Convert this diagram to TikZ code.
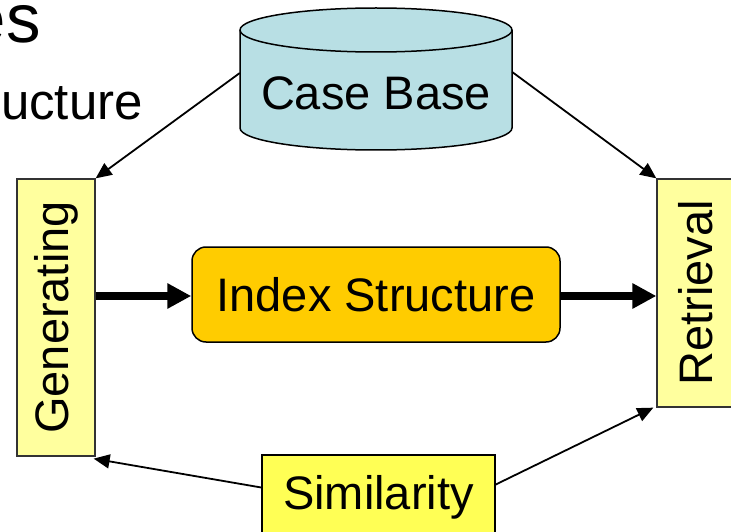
\documentclass[tikz,border=0pt]{standalone}
\usepackage{fontspec}
\setmainfont{Liberation Sans}
\usetikzlibrary{arrows.meta,calc}
\definecolor{cylblue}{HTML}{B8DFE4}
\definecolor{paleyellow}{HTML}{FFFF9E}
\definecolor{brightyellow}{HTML}{FFFF55}
\definecolor{gold}{HTML}{FFCC00}
\tikzset{
  lbl/.style={font=\fontsize{47}{52}\selectfont},
  sidebox/.style={draw=black!80, line width=1.3pt, fill=paleyellow, inner sep=0pt},
  thinarrow/.style={line width=1.8pt, -{Triangle[length=16pt,width=14pt]}},
  thickarrow/.style={line width=8pt, -{Triangle[length=24pt,width=24pt]}},
}
\begin{document}
\begin{tikzpicture}[x=1pt,y=-1pt]
\useasboundingbox (0,0) rectangle (731,532);

% fragments of the slide text behind the diagram
\node[anchor=base east, inner sep=0pt, font=\fontsize{69}{75}\selectfont] (t1) at (41,43) {es};
\node[anchor=base east, inner sep=0pt, font=\fontsize{51}{56}\selectfont] (t2) at (143,120) {ucture};

% case base drum
\path[fill=cylblue, draw=black, line width=1.5pt]
  (240,30) -- (240,128)
  arc[start angle=180, end angle=360, x radius=136pt, y radius=22pt]
  -- (512,30)
  arc[start angle=0, end angle=180, x radius=136pt, y radius=22pt] -- cycle;
\draw[line width=1.5pt] (240,30)
  arc[start angle=180, end angle=360, x radius=136pt, y radius=22pt];
\node[lbl, minimum width=272pt, inner sep=0pt, anchor=base] (cb) at (376,110) {Case Base};

% side boxes
\node[sidebox, minimum width=78pt, minimum height=277pt] (gen) at (56,317.5)
  {\rotatebox{90}{\fontsize{47}{52}\selectfont Generating}};
\node[sidebox, minimum width=78pt, minimum height=228pt] (ret) at (696,293)
  {\rotatebox{90}{\fontsize{47}{52}\selectfont Retrieval}};

% index structure
\node[lbl, draw=black, line width=1.5pt, fill=gold, rounded corners=14pt,
      minimum width=368pt, minimum height=95pt] (idx) at (376,294.5) {Index Structure};

% similarity
\node[lbl, draw=black, line width=1.5pt, fill=brightyellow,
      minimum width=233pt, minimum height=85pt] (sim) at (378.5,497.5) {Similarity};

% connectors
\draw[thinarrow] (cb.west |- 0,73) -- (gen.north east);
\draw[thinarrow] (cb.east |- 0,72) -- (ret.north west);
\draw[thinarrow] ($(sim.west)+(0,-10)$) -- ($(gen.south east)+(-2,2)$);
\draw[thinarrow] ($(sim.east)+(0,-13)$) -- ($(ret.south west)+(-3,0)$);
\draw[thickarrow] (gen.east |- 0,296) -- (idx.west |- 0,296);
\draw[thickarrow] (idx.east |- 0,296) -- (ret.west |- 0,296);
\end{tikzpicture}
\end{document}
